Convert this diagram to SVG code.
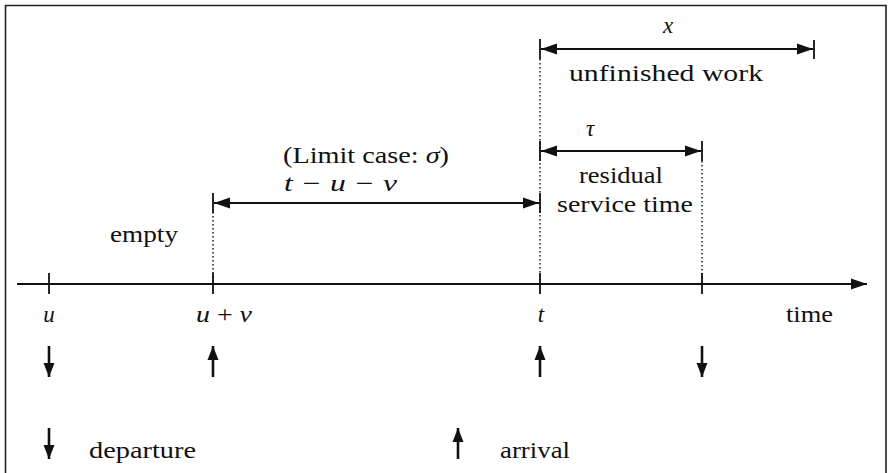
<svg xmlns="http://www.w3.org/2000/svg" width="889" height="473" viewBox="0 0 889 473">
<style>
text{font-family:"Liberation Serif","DejaVu Serif","Times New Roman",serif;font-size:23px;fill:#111}
.m{font-style:italic}
.ln{stroke:#111;stroke-width:2.2;fill:none}
.bar{stroke:#111;stroke-width:1.8;fill:none}
.dot{stroke:#111;stroke-width:1.4;stroke-dasharray:1.5 2.5;fill:none}
.arr{stroke:#111;stroke-width:2.6;fill:none}
</style>
<defs>
<marker id="ah" markerUnits="userSpaceOnUse" markerWidth="18" markerHeight="14" refX="16" refY="7" orient="auto-start-reverse">
<path d="M0,1.5 L16,7 L0,12.5 Z" fill="#111"/>
</marker>
<marker id="sh" markerUnits="userSpaceOnUse" markerWidth="16" markerHeight="14" refX="14" refY="7" orient="auto">
<path d="M0,1.5 L14,7 L0,12.5 Z" fill="#111"/>
</marker>
</defs>
<rect width="889" height="473" fill="#fff"/>
<path d="M5.5,480 V5.5 H886 V480" fill="none" stroke="#222" stroke-width="1.6"/>

<g id="connectors">
<line class="ln" x1="17" y1="284" x2="867" y2="284" marker-end="url(#ah)"/>
<line class="bar" x1="49" y1="273" x2="49" y2="294"/>
<line class="bar" x1="213" y1="273" x2="213" y2="294"/>
<line class="bar" x1="540" y1="273" x2="540" y2="294"/>
<line class="bar" x1="702" y1="273" x2="702" y2="294"/>
<line class="dot" x1="213" y1="212" x2="213" y2="283"/>
<line class="dot" x1="540" y1="59" x2="540" y2="283"/>
<line class="dot" x1="702" y1="161" x2="702" y2="283"/>
<line class="bar" x1="540" y1="39" x2="540" y2="59"/>
<line class="bar" x1="814" y1="40" x2="814" y2="59"/>
<line class="ln" x1="541" y1="49" x2="813" y2="49" marker-start="url(#ah)" marker-end="url(#ah)"/>
<line class="bar" x1="540" y1="141" x2="540" y2="161"/>
<line class="bar" x1="702" y1="141" x2="702" y2="161"/>
<line class="ln" x1="541" y1="151" x2="701" y2="151" marker-start="url(#ah)" marker-end="url(#ah)"/>
<line class="bar" x1="213" y1="193" x2="213" y2="213"/>
<line class="bar" x1="540" y1="193" x2="540" y2="213"/>
<line class="ln" x1="214" y1="203" x2="539" y2="203" marker-start="url(#ah)" marker-end="url(#ah)"/>
<line class="arr" x1="49" y1="346" x2="49" y2="377" marker-end="url(#sh)"/>
<line class="arr" x1="213" y1="377" x2="213" y2="346" marker-end="url(#sh)"/>
<line class="arr" x1="540" y1="377" x2="540" y2="346" marker-end="url(#sh)"/>
<line class="arr" x1="702" y1="346" x2="702" y2="377" marker-end="url(#sh)"/>
<line class="arr" x1="49" y1="428" x2="49" y2="459" marker-end="url(#sh)"/>
<line class="arr" x1="458" y1="459" x2="458" y2="428" marker-end="url(#sh)"/>
</g>

<g id="unfinished-work">
<text class="m" x="668" y="33" text-anchor="middle">x</text>
<text x="569" y="81" textLength="194" lengthAdjust="spacingAndGlyphs">unfinished work</text>
</g>
<g id="residual-service-time">
<text class="m" x="590" y="136" text-anchor="middle">τ</text>
<text x="579" y="183" textLength="84" lengthAdjust="spacingAndGlyphs">residual</text>
<text x="557" y="212" textLength="136" lengthAdjust="spacingAndGlyphs">service time</text>
</g>
<g id="limit-case">
<text x="283" y="163" textLength="166" lengthAdjust="spacingAndGlyphs">(Limit case: <tspan class="m">σ</tspan>)</text>
<text class="m" x="284" y="191" textLength="113" lengthAdjust="spacingAndGlyphs">t − u − v</text>
</g>
<g id="empty">
<text x="110" y="242" textLength="68" lengthAdjust="spacingAndGlyphs">empty</text>
</g>
<g id="axis-labels">
<text class="m" x="49" y="322" text-anchor="middle">u</text>
<text class="m" x="196" y="322" textLength="56" lengthAdjust="spacingAndGlyphs">u <tspan font-style="normal">+</tspan> v</text>
<text class="m" x="541" y="322" text-anchor="middle">t</text>
<text x="786" y="322" textLength="47" lengthAdjust="spacingAndGlyphs">time</text>
</g>
<g id="legend">
<text x="89" y="458" textLength="107" lengthAdjust="spacingAndGlyphs">departure</text>
<text x="500" y="458" textLength="70" lengthAdjust="spacingAndGlyphs">arrival</text>
</g>
</svg>
